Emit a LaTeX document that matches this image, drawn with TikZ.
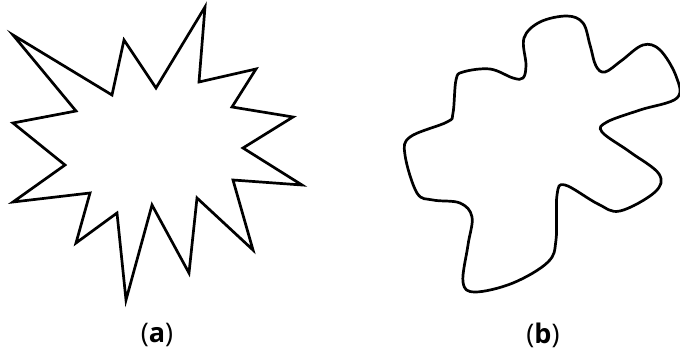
\documentclass[tikz,border=0pt]{standalone}
\usepackage{fontspec}
\setsansfont{Open Sans}
\usepackage{tikz}
\usetikzlibrary{positioning}

\tikzset{
  outline/.style={line width=2.7pt, black},
  caption/.style={font=\sffamily\fontsize{27}{32}\selectfont, inner sep=0pt}
}

\begin{document}
\begin{tikzpicture}[x=1pt, y=-1pt]
\useasboundingbox (0,0) rectangle (680,358);

% (a) spiky star
\draw[outline] (13,35) -- (112,95) -- (124,40) -- (156,88) -- (205,7)
  -- (199,82) -- (256,69) -- (232,107) -- (293,117) -- (243,148)
  -- (302,185) -- (233,180) -- (253,250) -- (197,198) -- (189,273)
  -- (152,205) -- (126,300) -- (117,213) -- (76,243) -- (90,193)
  -- (13,202) -- (65,165) -- (13,123) -- (76,111) -- cycle;

% (b) wavy blob
\draw[outline] plot[smooth cycle, tension=0.6] coordinates {
  (524,38) (540,22) (567,16) (583,23) (590,45) (596,66) (605,72)
  (621,61) (643,45) (660,50) (676,76) (677,98) (640,110) (607,122)
  (602,132) (630,152) (659,174) (655,192) (620,211) (598,204)
  (565,185) (557,195) (556,240) (548,262) (513,283) (475,292)
  (463,282) (468,245) (472,217) (460,203) (433,200) (417,193)
  (405,155) (410,137) (447,122) (453,113) (456,80) (463,72)
  (490,69) (513,78) (523,78) (526,65)};

\node[caption] (capa) at (157,335) {(\textbf{a})};
\node[caption] (capb) at (543,335) {(\textbf{b})};
\end{tikzpicture}
\end{document}
